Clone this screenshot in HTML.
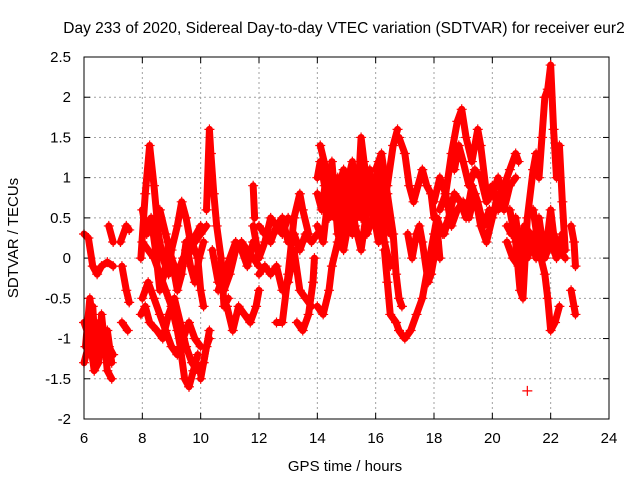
<!DOCTYPE html>
<html><head><meta charset="utf-8"><style>
body{margin:0;background:#fff}
svg{display:block}
text{font-family:"Liberation Sans",Arial,sans-serif;font-size:15px;fill:#000}
</style></head><body>
<svg id="chart" width="640" height="480">
<text x="344" y="33" text-anchor="middle" style="font-size:15.5px">Day 233 of 2020, Sidereal Day-to-day VTEC variation (SDTVAR) for receiver eur2</text>
<text x="345" y="471" text-anchor="middle">GPS time / hours</text>
<text transform="translate(18,238) rotate(-90)" text-anchor="middle">SDTVAR / TECUs</text>
<g id="grid"></g><g id="ticks"></g><g id="marks"></g>
<rect x="84" y="57" width="525" height="362" fill="none" stroke="#000" stroke-width="1"/>
</svg>
<script>
const xTicks=[6,8,10,12,14,16,18,20,22,24];
const yTicks=[-2,-1.5,-1,-0.5,0,0.5,1,1.5,2,2.5];
const yTickLabels=["-2","-1.5","-1","-0.5","0","0.5","1","1.5","2","2.5"];
const tracks=[
[[6.0,0.3],[6.15,0.25],[6.3,-0.1],[6.45,-0.2],[6.6,-0.1],[6.8,-0.05],[7.0,-0.1]],
[[6.0,-1.3],[6.15,-1.1],[6.3,-0.6],[6.4,-1.2],[6.55,-1.0],[6.7,-0.9],[6.85,-1.1],[7.0,-1.2]],
[[6.0,-0.8],[6.2,-1.0],[6.35,-1.4],[6.5,-1.3],[6.6,-0.7],[6.8,-1.4],[6.95,-1.5]],
[[6.05,-1.1],[6.2,-0.5],[6.35,-0.9],[6.5,-0.8],[6.65,-1.2],[6.8,-0.9],[6.95,-1.3]],
[[6.85,0.4],[7.0,0.2]],
[[7.25,0.2],[7.45,0.4],[7.55,0.35]],
[[7.3,-0.1],[7.45,-0.4],[7.55,-0.55]],
[[7.3,-0.8],[7.5,-0.9]],
[[7.95,-0.7],[8.1,-0.6],[8.25,-0.8],[8.5,-0.9],[8.7,-1.0],[8.9,-0.7],[9.1,-0.5],[9.3,-0.8],[9.5,-1.1],[9.7,-1.3],[9.9,-1.4],[10.1,-1.3],[10.3,-0.9]],
[[7.95,0.0],[8.1,0.8],[8.25,1.4],[8.4,0.9],[8.55,0.3],[8.7,0.0],[8.9,-0.2],[9.0,0.1],[9.2,0.4],[9.35,0.7],[9.5,0.5],[9.7,0.1],[9.85,0.3],[10.0,0.4]],
[[8.0,0.2],[8.2,0.1],[8.4,0.0],[8.6,-0.2],[8.8,-0.4],[9.0,-0.6],[9.2,-0.9],[9.3,-1.1],[9.45,-1.5],[9.6,-1.6],[9.75,-1.4],[9.9,-1.2]],
[[8.0,0.6],[8.15,0.3],[8.3,0.5],[8.45,0.1],[8.6,-0.4],[8.75,-0.2],[8.9,0.2],[9.05,-0.1],[9.2,-0.4],[9.35,-0.2],[9.5,0.2],[9.65,-0.1],[9.8,-0.3],[9.95,0.0],[10.1,0.2]],
[[8.0,-0.5],[8.2,-0.3],[8.4,-0.5],[8.6,-0.7],[8.8,-0.9],[9.0,-1.1],[9.2,-1.2],[9.4,-1.0],[9.6,-0.8],[9.8,-1.0],[10.0,-1.1]],
[[8.6,0.6],[8.8,0.3],[9.0,0.0],[9.2,-0.2],[9.4,0.0],[9.6,0.1],[9.8,0.2],[10.0,0.3],[10.2,0.4]],
[[9.5,0.1],[9.7,0.2],[9.9,0.0],[10.0,-0.4],[10.1,-0.6]],
[[10.2,0.6],[10.3,1.6],[10.35,1.3],[10.45,0.8],[10.55,0.4],[10.7,0.0],[10.8,-0.6],[10.95,-0.5]],
[[10.0,-1.5],[10.1,-1.3],[10.2,-1.1],[10.3,-1.0]],
[[10.4,0.1],[10.6,-0.3],[10.8,-0.4],[11.0,-0.2],[11.2,0.1],[11.4,0.2],[11.6,0.1],[11.8,0.0],[12.0,-0.1]],
[[10.6,-0.4],[10.8,-0.2],[11.0,0.0],[11.2,0.2],[11.4,0.1],[11.6,-0.1],[11.8,0.2],[12.0,0.1]],
[[10.9,-0.6],[11.1,-0.9],[11.3,-0.6],[11.5,-0.7],[11.7,-0.8],[11.9,-0.6],[12.0,-0.4]],
[[11.8,0.9],[11.85,0.5]],
[[11.8,0.4],[12.0,0.0],[12.2,0.2],[12.4,0.5],[12.6,0.4],[12.8,0.3],[13.0,0.5]],
[[12.0,0.4],[12.2,0.3],[12.4,0.2],[12.6,0.4],[12.8,0.5],[13.0,0.2],[13.2,0.3],[13.4,0.1],[13.6,0.3],[13.8,0.2],[14.0,0.3]],
[[12.0,-0.2],[12.2,-0.1],[12.4,-0.2],[12.6,-0.1],[12.8,-0.4],[13.0,-0.3],[13.2,0.1],[13.4,-0.4],[13.6,-0.5],[13.8,-0.6]],
[[12.6,-0.8],[12.8,-0.8],[13.0,-0.2],[13.2,0.5],[13.4,0.8],[13.5,0.6],[13.7,0.3]],
[[13.3,-0.8],[13.5,-0.9],[13.7,-0.7],[13.85,-0.3],[13.9,0.0]],
[[14.0,-0.6],[14.2,-0.7],[14.4,-0.4],[14.5,-0.1],[14.7,0.2],[14.9,0.5],[15.1,0.8],[15.3,0.4],[15.5,0.1],[15.7,0.6],[15.9,1.0],[16.1,0.8],[16.3,0.2],[16.5,-0.1]],
[[14.0,1.0],[14.1,1.2],[14.25,0.9],[14.4,0.5],[14.55,1.0],[14.7,0.7],[14.85,0.3],[15.0,0.9],[15.2,1.2],[15.35,0.5],[15.5,1.5],[15.6,1.2],[15.8,0.7],[16.0,0.4],[16.2,0.6],[16.4,0.9],[16.6,1.4],[16.75,1.6]],
[[14.0,0.4],[14.2,0.2],[14.35,0.7],[14.5,1.2],[14.7,0.3],[14.9,0.1],[15.1,0.5],[15.3,1.0],[15.5,0.8],[15.7,0.3],[15.9,0.5],[16.1,1.2],[16.3,0.8],[16.5,0.3]],
[[14.0,0.8],[14.15,0.6],[14.3,1.0],[14.45,0.8],[14.6,0.5],[14.75,0.9],[14.9,1.1],[15.05,0.6],[15.2,0.3],[15.35,0.8],[15.5,1.0],[15.65,0.8],[15.8,1.1],[15.95,0.7],[16.1,0.5],[16.25,1.0],[16.4,0.6]],
[[14.1,1.4],[14.3,1.1],[14.5,0.6],[14.7,1.0],[14.9,0.7],[15.1,1.0],[15.3,0.7],[15.5,0.5],[15.7,0.9],[15.9,0.6],[16.1,0.2],[16.3,0.5]],
[[16.0,1.1],[16.2,1.3],[16.4,0.8],[16.6,0.3],[16.7,-0.2],[16.8,-0.5],[16.9,-0.6]],
[[16.3,0.1],[16.4,-0.3],[16.5,-0.7],[16.7,-0.8],[16.8,-0.9],[17.0,-1.0],[17.2,-0.9],[17.4,-0.7],[17.6,-0.5],[17.8,-0.1],[18.0,0.3],[18.1,0.5]],
[[16.8,1.5],[17.0,1.3],[17.15,0.9],[17.3,0.7],[17.45,0.9],[17.6,1.1],[17.75,0.9],[17.9,0.8],[18.0,0.5]],
[[17.1,0.3],[17.25,0.0],[17.4,0.3],[17.5,0.4],[17.6,0.2],[17.8,-0.3],[17.9,-0.2],[18.0,0.1],[18.1,0.4],[18.2,0.0]],
[[17.9,-0.2],[18.0,0.0],[18.1,0.2],[18.2,0.4],[18.35,0.3],[18.5,0.5]],
[[18.0,0.7],[18.2,1.0],[18.4,0.8],[18.6,1.3],[18.8,1.7],[18.95,1.85],[19.1,1.5],[19.3,1.2],[19.5,1.6],[19.6,1.4],[19.8,0.8],[20.0,0.9],[20.2,0.6],[20.4,0.9],[20.6,1.1],[20.8,1.3],[20.9,1.2]],
[[18.2,0.6],[18.4,0.8],[18.6,0.4],[18.8,0.6],[19.0,0.7],[19.2,0.5],[19.4,0.8],[19.6,0.4],[19.8,0.2],[20.0,0.5],[20.2,0.8],[20.4,0.6],[20.6,0.9],[20.8,1.0]],
[[18.1,0.5],[18.3,0.3],[18.5,0.5],[18.7,0.8],[18.9,0.7],[19.1,0.5],[19.3,0.9],[19.5,0.7],[19.7,0.4],[19.9,0.6]],
[[18.7,1.1],[18.85,1.4],[19.0,1.2],[19.2,0.9],[19.4,1.1],[19.6,1.0],[19.8,0.7],[20.0,0.8],[20.2,1.0],[20.4,0.7]],
[[20.5,0.2],[20.7,0.0],[20.9,-0.1],[21.0,0.3],[21.2,0.0],[21.4,0.2],[21.6,0.5],[21.8,0.0],[22.0,0.2],[22.2,0.0],[22.4,0.3]],
[[20.5,0.4],[20.65,0.3],[20.8,0.5],[20.95,0.1],[21.1,0.4],[21.3,0.3],[21.5,0.0],[21.7,0.3],[21.85,0.1],[22.0,0.4],[22.2,0.2],[22.4,0.1]],
[[20.6,0.6],[20.8,0.2],[20.95,-0.4],[21.05,-0.5],[21.2,0.5],[21.4,1.1],[21.5,1.3],[21.6,1.0],[21.7,1.5],[21.8,2.0],[21.9,2.1],[22.0,2.4],[22.1,1.6],[22.2,1.0],[22.3,1.4],[22.4,0.7],[22.5,0.1]],
[[21.4,0.6],[21.6,0.1],[21.8,-0.2],[21.9,-0.5],[22.0,-0.9],[22.15,-0.8],[22.3,-0.6]],
[[21.9,0.3],[22.0,0.6],[22.1,0.3],[22.3,0.1],[22.5,0.0]],
[[22.7,0.4],[22.8,0.2],[22.85,-0.1]],
[[22.7,-0.4],[22.8,-0.6],[22.85,-0.7]],
[[21.2,-1.65]]
];
const NS="http://www.w3.org/2000/svg";
const X0=84,X1=609,Y0=419,Y1=57;
function sx(t){return X0+(t-6)/(24-6)*(X1-X0);}
function sy(v){return Y0-(v+2)/(4.5)*(Y0-Y1);}
function mk(tag,attrs,parent){const e=document.createElementNS(NS,tag);for(const k in attrs)e.setAttribute(k,attrs[k]);parent.appendChild(e);return e;}
const grid=document.getElementById('grid'),ticks=document.getElementById('ticks'),marks=document.getElementById('marks');
xTicks.forEach(t=>{
  const x=sx(t);
  if(t>6&&t<24){const g=mk('line',{x1:x,x2:x,y1:Y1,y2:Y0,stroke:'#a0a0a0','stroke-dasharray':'2,3'},grid);
  
  }
  mk('line',{x1:x,x2:x,y1:Y0,y2:Y0-6,stroke:'#000'},ticks);
  mk('line',{x1:x,x2:x,y1:Y1,y2:Y1+6,stroke:'#000'},ticks);
  const l=mk('text',{x:x,y:443,'text-anchor':'middle'},ticks);l.textContent=t;
  
  
});
yTicks.forEach((v,i)=>{
  const y=sy(v);
  if(i>0&&i<yTicks.length-1){const g=mk('line',{x1:X0,x2:X1,y1:y,y2:y,stroke:'#a0a0a0','stroke-dasharray':'2,3'},grid);
  
  }
  mk('line',{x1:X0,x2:X0+6,y1:y,y2:y,stroke:'#000'},ticks);
  mk('line',{x1:X1,x2:X1-6,y1:y,y2:y,stroke:'#000'},ticks);
  const l=mk('text',{x:71,y:y+5,'text-anchor':'end'},ticks);l.textContent=yTickLabels[i];
  
  
});
tracks.forEach(tr=>{
  if(tr.length>1){
    const p=mk('polyline',{points:tr.map(d=>sx(d[0])+','+sy(d[1])).join(' '),fill:'none',stroke:'#f00','stroke-width':7,'stroke-linejoin':'round','stroke-linecap':'round'},marks);
    
    
  }
  tr.forEach(d=>{
    const x=sx(d[0]),y=sy(d[1]);
    const m=mk('path',{d:`M${x-5},${y}h10M${x},${y-5}v10`,stroke:'#f00','stroke-width':1.2},marks);
    
    
  });
});
</script>
</body></html>
